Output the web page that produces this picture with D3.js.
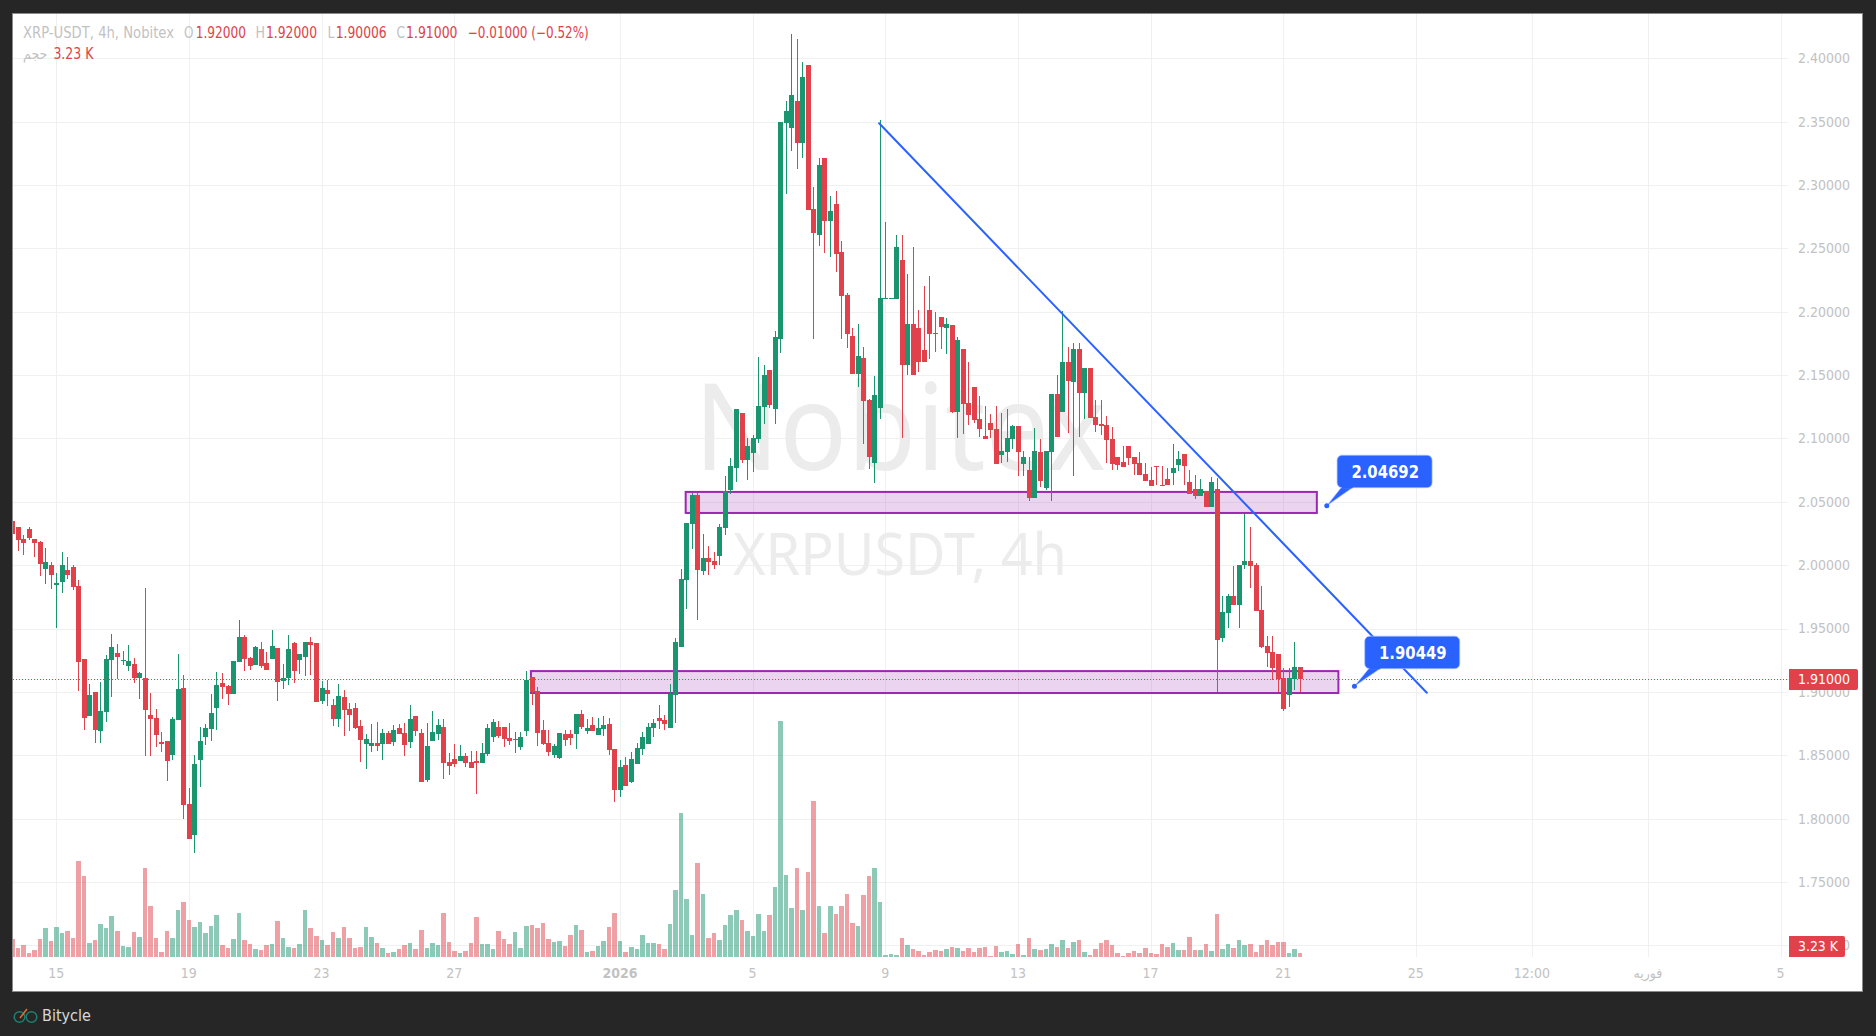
<!DOCTYPE html>
<html><head><meta charset="utf-8">
<script src="https://d3js.org/d3.v7.min.js"></script>
<style>
html,body{margin:0;padding:0;background:#262626;overflow:hidden}
svg{display:block}
text{font-family:"DejaVu Sans Condensed","DejaVu Sans",sans-serif}
</style></head><body>
<svg id="c" width="1876" height="1036"></svg>
<script>
// Candle series
const opens=[2.0347,2.0299,2.0204,2.0283,2.0204,2.0180,1.9967,1.9998,1.9840,1.9871,
1.9959,1.9982,1.9832,1.9262,1.8810,1.9000,1.8691,1.8842,1.9254,1.9309,
1.9246,1.9206,1.9222,1.9111,1.9111,1.8818,1.8794,1.8604,1.8612,1.8501,
1.8779,1.9032,1.8113,1.7868,1.8462,1.8644,1.8707,1.8874,1.9072,1.9048,
1.8984,1.9238,1.9436,1.9270,1.9214,1.9341,1.9230,1.9262,1.9349,1.9087,
1.9111,1.9388,1.9254,1.9277,1.9396,1.9388,1.8929,1.9016,1.8897,1.8786,
1.8961,1.8866,1.8874,1.8731,1.8588,1.8573,1.8596,1.8588,1.8676,1.8604,
1.8715,1.8676,1.8604,1.8810,1.8676,1.8303,1.8612,1.8668,1.8723,1.8446,
1.8470,1.8454,1.8493,1.8446,1.8454,1.8438,1.8509,1.8644,1.8723,1.8723,
1.8636,1.8623,1.8565,1.8691,1.9119,1.9008,1.8699,1.8596,1.8501,1.8477,
1.8668,1.8668,1.8668,1.8826,1.8691,1.8739,1.8660,1.8707,1.8747,1.8549,
1.8224,1.8422,1.8287,1.8430,1.8549,1.8588,1.8715,1.8794,1.8779,1.8715,
1.8977,1.9357,1.9879,2.0323,2.0552,1.9950,2.0053,2.0030,2.0069,2.0291,
2.0592,2.0766,2.1202,2.0830,2.0885,2.0996,2.1249,2.1542,2.1234,2.1788,
2.3491,2.3452,2.3666,2.3333,2.3951,2.2810,2.2604,2.3214,2.2715,2.2850,
2.2470,2.2129,2.1812,2.1511,2.1638,2.1305,2.0806,2.1242,2.2097,2.2097,
2.2097,2.2406,2.1583,2.1907,2.1868,2.1701,2.2010,2.1836,2.1955,2.1868,
2.1899,2.1210,2.1709,2.1282,2.1408,2.1155,2.1020,2.1123,2.1076,2.0870,
2.0894,2.0996,2.1099,2.0799,2.0751,2.0529,2.0894,2.0608,2.0894,2.1353,
2.1210,2.1606,2.1448,2.1709,2.1361,2.1559,2.1171,2.1115,2.1107,2.0996,
2.0854,2.0814,2.0941,2.0854,2.0806,2.0719,2.0672,2.0783,2.0632,2.0680,
2.0727,2.0791,2.0878,2.0656,2.0601,2.0545,2.0585,2.0458,2.0600,1.9428,
1.9626,1.9760,1.9689,1.9998,2.0030,1.9998,1.9650,1.9364,1.9317,1.9301,
1.9111,1.8976,1.9103,1.9200];
const highs=[2.0355,2.0299,2.0236,2.0299,2.0204,2.0188,2.0133,2.0022,1.9935,2.0101,
2.0062,1.9998,1.9879,1.9262,1.9064,1.9000,1.9079,1.9293,1.9460,1.9380,
1.9325,1.9373,1.9270,1.9159,1.9816,1.8992,1.8866,1.8683,1.8612,1.8802,
1.9301,1.9135,1.8240,1.8501,1.8723,1.8747,1.8984,1.9159,1.9151,1.9056,
1.9246,1.9571,1.9452,1.9277,1.9365,1.9396,1.9317,1.9491,1.9349,1.9222,
1.9452,1.9396,1.9301,1.9396,1.9436,1.9388,1.9087,1.9095,1.8945,1.9064,
1.9016,1.8913,1.8913,1.8779,1.8668,1.8747,1.8763,1.8707,1.8691,1.8739,
1.8747,1.8755,1.8897,1.8810,1.8707,1.8755,1.8850,1.8786,1.8786,1.8517,
1.8588,1.8581,1.8517,1.8533,1.8533,1.8596,1.8747,1.8786,1.8771,1.8723,
1.8755,1.8683,1.8683,1.9167,1.9119,1.9040,1.8779,1.8699,1.8588,1.8676,
1.8699,1.8699,1.8826,1.8858,1.8786,1.8802,1.8794,1.8810,1.8794,1.8549,
1.8462,1.8486,1.8525,1.8596,1.8683,1.8755,1.8786,1.8897,1.8818,1.9064,
1.9428,1.9966,2.0331,2.0568,2.0568,2.0244,2.0148,2.0101,2.0323,2.0703,
2.0845,2.1234,2.1202,2.1004,2.1028,2.1645,2.1582,2.1542,2.1844,2.3499,
2.3666,2.4188,2.4149,2.3967,2.3951,2.2984,2.3214,2.3214,2.2913,2.2953,
2.2557,2.2145,2.1875,2.1907,2.1725,2.1313,2.1495,2.3515,2.2707,2.2105,
2.2604,2.2604,2.2295,2.2509,2.2010,2.2200,2.2280,2.1994,2.1955,2.1947,
2.1899,2.1804,2.1709,2.1606,2.1408,2.1337,2.1258,2.1195,2.1258,2.1202,
2.1234,2.1107,2.1099,2.0901,2.0854,2.1084,2.0996,2.0901,2.1353,2.1503,
2.2002,2.1725,2.1757,2.1757,2.1559,2.1559,2.1305,2.1305,2.1179,2.1092,
2.0854,2.0941,2.0941,2.0854,2.0893,2.0806,2.0775,2.0783,2.0783,2.0767,
2.0957,2.0901,2.0878,2.0751,2.0711,2.0680,2.0585,2.0696,2.0687,1.9760,
1.9776,1.9990,1.9998,2.0402,2.0299,2.0014,1.9832,1.9444,1.9444,1.9301,
1.9190,1.9190,1.9396,1.9200];
const lows=[2.0249,2.0109,2.0077,2.0196,2.0062,1.9911,1.9848,1.9808,1.9502,1.9784,
1.9887,1.9800,1.9008,1.8699,1.8810,1.8596,1.8596,1.8763,1.8961,1.9103,
1.9214,1.9167,1.9072,1.8945,1.8493,1.8493,1.8565,1.8525,1.8295,1.8462,
1.8779,1.7994,1.7836,1.7725,1.8248,1.8581,1.8612,1.8699,1.8945,1.8897,
1.8984,1.9238,1.9167,1.9175,1.9214,1.9190,1.9175,1.9262,1.8929,1.9024,
1.9056,1.9072,1.9143,1.9127,1.9135,1.8921,1.8905,1.8889,1.8731,1.8723,
1.8652,1.8691,1.8707,1.8446,1.8390,1.8525,1.8533,1.8462,1.8588,1.8573,
1.8668,1.8493,1.8557,1.8652,1.8287,1.8287,1.8612,1.8620,1.8311,1.8343,
1.8406,1.8454,1.8406,1.8398,1.8192,1.8438,1.8493,1.8604,1.8636,1.8565,
1.8581,1.8517,1.8541,1.8652,1.8897,1.8573,1.8581,1.8493,1.8477,1.8470,
1.8573,1.8581,1.8549,1.8707,1.8668,1.8691,1.8660,1.8652,1.8501,1.8129,
1.8169,1.8256,1.8280,1.8430,1.8501,1.8588,1.8644,1.8707,1.8699,1.8715,
1.8755,1.9357,1.9657,2.0125,1.9570,1.9919,1.9919,1.9966,1.9998,2.0236,
2.0560,2.0655,2.0806,2.0671,2.0735,2.0964,2.1115,2.1241,2.1115,2.1677,
2.2929,2.3270,2.3127,2.3214,2.2802,2.1781,2.2517,2.2462,2.2430,2.2311,
2.1781,2.1717,2.1511,2.1408,2.0957,2.0759,2.0648,2.1155,2.2097,2.2097,
2.2097,2.1004,2.1503,2.1503,2.1527,2.1606,2.1630,2.1686,2.1709,2.1670,
2.1202,2.1004,2.1036,2.1107,2.1123,2.1012,2.0996,2.1004,2.0799,2.0806,
2.0814,2.0917,2.0703,2.0703,2.0506,2.0529,2.0616,2.0593,2.0506,2.1012,
2.1210,2.1044,2.0703,2.1012,2.1155,2.1163,2.1052,2.1028,2.0806,2.0751,
2.0751,2.0775,2.0791,2.0711,2.0711,2.0664,2.0624,2.0632,2.0624,2.0632,
2.0632,2.0743,2.0632,2.0561,2.0521,2.0545,2.0458,2.0458,1.9000,1.9396,
1.9507,1.9689,1.9507,1.9966,1.9816,1.9642,1.9348,1.9198,1.9095,1.9000,
1.8850,1.8881,1.9016,1.90006];
const closes=[2.0249,2.0196,2.0172,2.0212,2.0172,2.0006,2.0022,1.9919,1.9856,1.9998,
1.9919,1.9824,1.9238,1.8794,1.8977,1.8699,1.8850,1.9262,1.9357,1.9277,
1.9254,1.9246,1.9111,1.9151,1.8858,1.8786,1.8660,1.8588,1.8454,1.8786,
1.9024,1.8105,1.7836,1.8430,1.8612,1.8715,1.8834,1.9056,1.9040,1.8984,
1.9246,1.9436,1.9262,1.9206,1.9357,1.9206,1.9175,1.9365,1.9079,1.9111,
1.9341,1.9167,1.9301,1.9396,1.9373,1.8921,1.9032,1.8984,1.8786,1.8969,
1.8858,1.8818,1.8715,1.8620,1.8628,1.8596,1.8573,1.8676,1.8588,1.8699,
1.8668,1.8581,1.8786,1.8691,1.8287,1.8573,1.8683,1.8739,1.8438,1.8414,
1.8430,1.8493,1.8438,1.8398,1.8438,1.8517,1.8715,1.8763,1.8652,1.8628,
1.8612,1.8628,1.8644,1.9095,1.9000,1.8676,1.8588,1.8525,1.8573,1.8676,
1.8620,1.8636,1.8826,1.8723,1.8715,1.8691,1.8715,1.8739,1.8541,1.8224,
1.8406,1.8256,1.8470,1.8557,1.8644,1.8723,1.8755,1.8771,1.8747,1.8982,
1.9396,1.9887,2.0331,2.0552,1.9958,2.0053,2.0022,1.9998,2.0299,2.0584,
2.0782,2.1234,2.0830,2.0940,2.1004,2.1257,2.1503,2.1265,2.1804,2.3499,
2.3586,2.3713,2.3333,2.3856,2.2802,2.2620,2.3159,2.2715,2.2794,2.2454,
2.2121,2.1828,2.1511,2.1653,2.1297,2.0854,2.1345,2.2105,2.2105,2.2105,
2.2509,2.1583,2.1907,2.1503,2.1606,2.1606,2.1828,2.1828,2.1876,2.1907,
2.1210,2.1773,2.1274,2.1187,2.1147,2.1076,2.0996,2.1068,2.0799,2.0901,
2.1004,2.1099,2.0894,2.0854,2.0529,2.0901,2.0664,2.0901,2.1353,2.1012,
2.1606,2.1456,2.1709,2.1361,2.1559,2.1163,2.1107,2.1099,2.0989,2.0799,
2.0791,2.0775,2.0846,2.0799,2.0711,2.0664,2.0624,2.0775,2.0624,2.0632,
2.0767,2.0838,2.0783,2.0561,2.0545,2.0601,2.0458,2.0656,1.9412,1.9634,
1.9760,1.9689,1.9998,2.0030,1.9990,1.9642,1.9356,1.9309,1.9190,1.9103,
1.8865,1.9111,1.9198,1.9100];
// Volume, thousands
const volumes=[14.4,7.2,9.6,3.2,5.6,14.4,23.2,12.8,24,19.2,
20.8,15.2,76.8,64.8,11.2,13.6,26.4,23.2,32.8,20.8,
8.8,8,20,16,71.2,40.8,15.2,4,20.8,15.2,
37.6,44,29.6,24,28,19.2,24.8,33.6,9.6,7.2,
14.4,35.2,13.6,10.4,6.4,5.6,9.6,10.4,28.8,15.2,
8,7.2,10.4,37.6,23.2,16.8,13.6,9.6,20,15.2,
24,15.2,7.2,8,24,16,11.2,7.2,3.2,4,
6.4,9.6,11.2,6.4,21.6,7.2,11.2,9.6,35.2,12,
4.8,3.2,4.8,11.2,32,10.4,10.4,6.4,20.8,14.4,
10.4,20,7.2,24.8,25.6,23.2,27.2,14.4,12,12.8,
8.8,17.6,25.6,21.6,4,4.8,8.8,12.8,24,35.2,
12.8,4,8,6.4,17.6,11.2,11.2,10.4,6.4,26.4,
53.6,115.2,46.4,17.6,75.2,50.4,15.2,19.2,13.6,25.6,
33.6,37.6,29.6,20.8,16.8,34.4,20.8,33.6,56,188.8,
65.6,39.2,71.2,37.6,68,124.8,40.8,19.2,40.8,34.4,
40.8,50.4,27.2,24.8,49.6,64.8,71.2,44,1.6,2.4,
1.6,15.2,9.6,6.4,4.8,1.6,4,5.6,4.8,6.4,
8,7.2,4.8,7.2,4,7.2,8,0.8,8.8,4,
4.8,2.4,10.4,1.6,15.2,6.4,5.6,6.4,10.4,8,
13.6,7.2,12,13.6,4,1.6,6.4,11.2,13.6,9.6,
3.2,0.8,3.2,4.8,3.2,7.2,3.2,2.4,10.4,8,
11.2,5.6,5.6,16,5.6,5.6,10.4,4.8,34.4,6.4,
10.4,7.2,13.6,9.6,10.4,4,9.6,13.6,9.6,12,
12,3.2,6.4,3.23];
// Axis content
const priceTicks=[2.40,2.35,2.30,2.25,2.20,2.15,2.10,2.05,2.00,1.95,1.90,1.85,1.80,1.75,1.70];
const timeTickBars=[8,32,56,80,110,134,158,182,206,230,254,275,296,320];
const timeTickLabels=["15","19","23","27","2026","5","9","13","17","21","25","12:00","فوریه","5"];
// Drawings, in bar index and price
const zoneBars=[[121.8,236],[93.8,239.9]];
const zonePrices=[[2.0578,2.0412],[1.9164,1.8991]];
const trendBars=[156.8,255.9];
const trendPrices=[2.3487,1.8993];
const calloutBars=[237.8,242.8];
const calloutPrices=[2.04692,1.90449];
const lastPrice=1.91, lastVolume="3.23 K";

const RED="#e0414a",GREEN="#19966f",BLUE="#2962ff",AXIS="#c2c2c2";
const L=13,R=1788,T=14,B=957;
const svg=d3.select("#c");
svg.append("rect").attr("x",12.5).attr("y",13.5).attr("width",1850).attr("height",978).attr("fill","#fff").attr("stroke","#8a8a8a");
const x=d3.scaleLinear().domain([0,320]).range([12.5,1781.1]);
const y=d3.scaleLinear().domain([2.40,1.70]).range([58.3,945.3]);
const v=d3.scaleLinear().domain([0,188.8]).range([957,721]);
const clipDefs=svg.append("defs").append("clipPath").attr("id","pane");
clipDefs.append("rect").attr("x",L).attr("y",T).attr("width",R-L).attr("height",B-T);
// grid
const grid=svg.append("g").attr("shape-rendering","crispEdges").attr("stroke","#f0f0f0");
grid.selectAll("line.h").data(priceTicks).join("line").attr("class","h")
  .attr("x1",L).attr("x2",R).attr("y1",d=>Math.round(y(d))+.5).attr("y2",d=>Math.round(y(d))+.5);
grid.selectAll("line.v").data(timeTickBars).join("line").attr("class","v")
  .attr("y1",T).attr("y2",B).attr("x1",d=>Math.floor(x(d))+.5).attr("x2",d=>Math.floor(x(d))+.5);
// watermark
svg.append("text").attr("x",694).attr("y",470).attr("fill","#ececec").attr("font-size",121).attr("textLength",412).attr("lengthAdjust","spacingAndGlyphs").style("font-family",'"Noto Sans"').text("Nobitex");
svg.append("text").attr("x",733).attr("y",575).attr("fill","#ececec").attr("font-size",58).attr("textLength",334).attr("lengthAdjust","spacingAndGlyphs").style("font-family",'"Noto Sans"').text("XRPUSDT, 4h");
// axes
const ay=svg.append("g").attr("transform","translate(1798,0)").call(d3.axisRight(y).tickValues(priceTicks).tickSize(0).tickPadding(0).tickFormat(d=>d.toFixed(5)));
ay.select(".domain").remove();
ay.selectAll("text").attr("fill",AXIS).attr("font-size",14).style("font-family",'"DejaVu Sans Condensed"');
const ax=svg.append("g").attr("transform","translate(-1,968)").call(d3.axisBottom(x).tickValues(timeTickBars).tickSize(0).tickPadding(0).tickFormat((d,i)=>timeTickLabels[i]));
ax.select(".domain").remove();
ax.selectAll("text").attr("fill",AXIS).attr("font-size",14).style("font-family",'"DejaVu Sans Condensed"').attr("font-weight",(d,i)=>timeTickLabels[i]==="2026"?"bold":null);
// zones
const plot=svg.append("g").attr("clip-path","url(#pane)");
const bars=d3.range(opens.length);
const bodyLeft=i=>Math.round(x(i)-2.5);
// volume
plot.append("g").attr("shape-rendering","crispEdges").selectAll("rect").data(bars).join("rect")
  .attr("x",bodyLeft).attr("width",i=>bodyLeft(i+1)-bodyLeft(i)-1)
  .attr("y",i=>Math.round(v(volumes[i]))).attr("height",i=>Math.max(1,957-Math.round(v(volumes[i]))))
  .attr("fill",i=>closes[i]>=opens[i]?GREEN:RED).attr("opacity",.5);
plot.append("g").selectAll("rect").data(zoneBars).join("rect")
  .attr("x",d=>x(d[0])).attr("width",d=>x(d[1])-x(d[0]))
  .attr("y",(d,i)=>y(zonePrices[i][0])).attr("height",(d,i)=>y(zonePrices[i][1])-y(zonePrices[i][0]))
  .attr("fill","#9c27b0").attr("fill-opacity",.2).attr("stroke","#9c27b0").attr("stroke-width",2);
// candles
const cg=plot.append("g").attr("shape-rendering","crispEdges");
cg.selectAll("rect.w").data(bars).join("rect").attr("class","w")
  .attr("x",i=>bodyLeft(i)+2).attr("width",1)
  .attr("y",i=>Math.round(y(highs[i]))).attr("height",i=>Math.max(1,Math.round(y(lows[i]))-Math.round(y(highs[i]))))
  .attr("fill",i=>closes[i]>=opens[i]?GREEN:RED);
cg.selectAll("rect.b").data(bars).join("rect").attr("class","b")
  .attr("x",bodyLeft).attr("width",5)
  .attr("y",i=>Math.round(y(Math.max(opens[i],closes[i]))))
  .attr("height",i=>Math.max(1,Math.round(y(Math.min(opens[i],closes[i])))-Math.round(y(Math.max(opens[i],closes[i])))))
  .attr("fill",i=>closes[i]>=opens[i]?GREEN:RED);
// last price line
svg.append("line").attr("x1",13).attr("x2",R).attr("y1",Math.round(y(lastPrice))+.5).attr("y2",Math.round(y(lastPrice))+.5)
  .attr("stroke",RED).attr("stroke-dasharray","1,2");
// trend line
plot.append("line").attr("x1",x(trendBars[0])).attr("y1",y(trendPrices[0])).attr("x2",x(trendBars[1])).attr("y2",y(trendPrices[1]))
  .attr("stroke",BLUE).attr("stroke-width",2).attr("stroke-linecap","round");
// callouts
calloutBars.forEach((b,i)=>{
  const tx=x(b),ty=y(calloutPrices[i]);
  const bx=tx+10.3,by=ty+(i===0?-50.5:-50);
  const g=svg.append("g");
  g.append("path").attr("d",`M${tx},${ty}L${bx+4.4},${by+32}L${bx+16},${by+32}Z`).attr("fill",BLUE).attr("stroke","#a9c0ff").attr("stroke-width",.7);
  g.append("rect").attr("x",bx).attr("y",by).attr("width",95).attr("height",32.5).attr("rx",5).attr("fill",BLUE).attr("stroke","#a9c0ff").attr("stroke-width",.7);
  g.append("rect").attr("x",bx+4.8).attr("y",by+30).attr("width",10.8).attr("height",3).attr("fill",BLUE);
  g.append("circle").attr("cx",tx).attr("cy",ty).attr("r",2.5).attr("fill",BLUE);
  g.append("text").attr("x",bx+14.3).attr("y",by+22.5).attr("fill","#fff").attr("font-size",17.5).attr("font-weight",700).attr("textLength",67.6).attr("lengthAdjust","spacingAndGlyphs").text(calloutPrices[i].toFixed(5));
});
// axis labels
const pl=svg.append("g");
pl.append("path").attr("d","M1789,669H1856a2,2 0 0 1 2,2V688a2,2 0 0 1 -2,2H1789Z").attr("fill",RED);
pl.append("text").attr("x",1798).attr("y",684).attr("fill","#fff").attr("font-size",14).text(lastPrice.toFixed(5));
pl.append("path").attr("d","M1789,936H1843a2,2 0 0 1 2,2V955a2,2 0 0 1 -2,2H1789Z").attr("fill",RED);
pl.append("text").attr("x",1798).attr("y",951).attr("fill","#fff").attr("font-size",14).attr("textLength",40).attr("lengthAdjust","spacingAndGlyphs").text(lastVolume);
// legend: text, left edge, width, colour
const legend=[["XRP-USDT, 4h, Nobitex",23,151,AXIS],["O",184,9.5,AXIS],["1.92000",195.7,50.3,RED],["H",255.4,9.5,AXIS],["1.92000",266,51,RED],["L",327.4,7,AXIS],["1.90006",335.7,51,RED],["C",396.6,8.5,AXIS],["1.91000",406,51.5,RED],["−0.01000 (−0.52%)",467.8,121,RED]];
svg.append("g").selectAll("text").data(legend).join("text").attr("x",d=>d[1]).attr("y",38).attr("fill",d=>d[3]).attr("font-size",15).attr("textLength",d=>d[2]).attr("lengthAdjust","spacingAndGlyphs").text(d=>d[0]);
svg.append("text").attr("x",23).attr("y",59).attr("fill",AXIS).attr("font-size",14).text("حجم");
svg.append("text").attr("x",53.4).attr("y",59).attr("fill",RED).attr("font-size",15).attr("textLength",40).attr("lengthAdjust","spacingAndGlyphs").text(lastVolume);
// footer
const f=svg.append("g");
f.append("circle").attr("cx",19.5).attr("cy",1017).attr("r",5.3).attr("fill","none").attr("stroke","#1d7f6e").attr("stroke-width",1.5);
f.append("circle").attr("cx",31.5).attr("cy",1017).attr("r",5.3).attr("fill","none").attr("stroke","#1d7f6e").attr("stroke-width",1.5);
f.append("path").attr("d","M20,1018L27,1009").attr("stroke","#e0703a").attr("stroke-width",1.5).attr("fill","none");
svg.append("text").attr("x",42).attr("y",1020.5).attr("fill","#d8d8d8").attr("font-size",16).text("Bitycle");
</script>
</body></html>
